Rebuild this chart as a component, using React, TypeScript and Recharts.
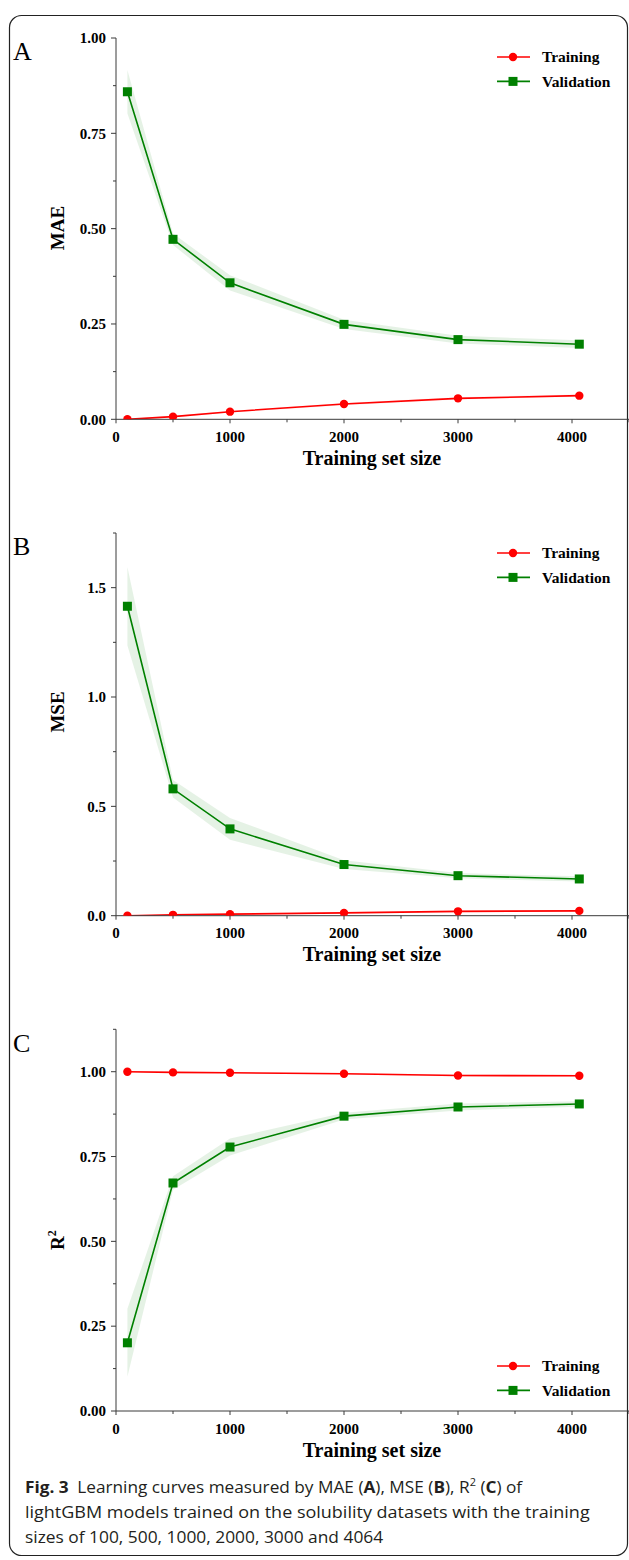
import React from 'react';
import { ComposedChart, Line, Area, XAxis, YAxis, Legend } from 'recharts';

// ---------- data ----------
const sizes = [100, 500, 1000, 2000, 3000, 4064];

const maeTrain = [0.0, 0.007, 0.02, 0.04, 0.055, 0.062];
const maeTrainStd = [0.001, 0.002, 0.002, 0.003, 0.003, 0.003];
const maeVal = [0.859, 0.472, 0.358, 0.249, 0.209, 0.197];
const maeValStd = [0.057, 0.015, 0.02, 0.012, 0.01, 0.01];

const mseTrain = [0.0, 0.004, 0.007, 0.013, 0.02, 0.022];
const mseTrainStd = [0.001, 0.002, 0.002, 0.003, 0.004, 0.004];
const mseVal = [1.415, 0.58, 0.397, 0.234, 0.183, 0.168];
const mseValStd = [0.18, 0.04, 0.05, 0.02, 0.012, 0.012];

const r2Train = [1.0, 0.998, 0.997, 0.994, 0.989, 0.988];
const r2TrainStd = [0.001, 0.002, 0.002, 0.002, 0.003, 0.003];
const r2Val = [0.201, 0.672, 0.778, 0.869, 0.896, 0.905];
const r2ValStd = [0.1, 0.02, 0.025, 0.01, 0.01, 0.008];

const xTicks = [0, 500, 1000, 1500, 2000, 2500, 3000, 3500, 4000, 4500];
const xMajor = [0, 1000, 2000, 3000, 4000];

const maeTicks = [0, 0.125, 0.25, 0.375, 0.5, 0.625, 0.75, 0.875, 1.0];
const maeMajor = [0, 0.25, 0.5, 0.75, 1.0];
const mseTicks = [0, 0.25, 0.5, 0.75, 1.0, 1.25, 1.5, 1.75];
const mseMajor = [0, 0.5, 1.0, 1.5];
const r2Ticks = [0, 0.125, 0.25, 0.375, 0.5, 0.625, 0.75, 0.875, 1.0, 1.125];
const r2Major = [0, 0.25, 0.5, 0.75, 1.0];

const seriesNames = ['Training', 'Validation'];

const captionLine2 = 'lightGBM models trained on the solubility datasets with the training';
const captionLine3 = 'sizes of 100, 500, 1000, 2000, 3000 and 4064';

// ---------- styles ----------
const FONT = '"Liberation Serif", "Times New Roman", serif';
const RED = '#ff0000';
const GREEN = '#008000';
const AXIS = '#3a3a3a';

function buildRows(train: number[], trainStd: number[], val: number[], valStd: number[]) {
  return sizes.map((s, i) => ({
    size: s,
    train: train[i],
    val: val[i],
    trainBand: [train[i] - trainStd[i], train[i] + trainStd[i]],
    valBand: [val[i] - valStd[i], val[i] + valStd[i]],
  }));
}

const isIn = (arr: number[], v: number) => arr.some((m) => Math.abs(m - v) < 1e-9);

const makeYTick = (majors: number[], digits: number) => (props: any) => {
  const { x, y, payload } = props;
  const v = payload.value as number;
  const major = isIn(majors, v);
  return (
    <g>
      <line x1={x - (major ? 5 : 3)} x2={x} y1={y} y2={y} stroke={AXIS} strokeWidth={1} />
      {major && (
        <text x={x - 10} y={y} dy="0.35em" textAnchor="end" fontFamily={FONT} fontWeight="bold" fontSize={15} fill="#000">
          {v.toFixed(digits)}
        </text>
      )}
    </g>
  );
};

const xTick = (props: any) => {
  const { x, y, payload } = props;
  const v = payload.value as number;
  const major = isIn(xMajor, v);
  return (
    <g>
      <line x1={x} x2={x} y1={y} y2={y + (major ? 4 : 3)} stroke={AXIS} strokeWidth={1} />
      {major && (
        <text x={x} y={y + 17.5} dy="0.35em" textAnchor="middle" fontFamily={FONT} fontWeight="bold" fontSize={15} fill="#000">
          {String(v)}
        </text>
      )}
    </g>
  );
};

const squareDot = (props: any) => {
  const { cx, cy, index } = props;
  if (cx == null || cy == null) return <g key={`sq-${index}`} />;
  return <rect key={`sq-${index}`} x={cx - 4.5} y={cy - 4.5} width={9} height={9} fill={GREEN} />;
};

const legendContent = () => (
  <svg width={139} height={50} style={{ overflow: 'visible', display: 'block' }}>
    <line x1={7} x2={40} y1={12} y2={12} stroke={RED} strokeWidth={1.6} />
    <circle cx={23} cy={12} r={4.2} fill={RED} />
    <text x={52} y={12} dy="0.35em" fontFamily={FONT} fontWeight="bold" fontSize={15.5} fill="#000">
      {seriesNames[0]}
    </text>
    <line x1={7} x2={40} y1={36.4} y2={36.4} stroke={GREEN} strokeWidth={1.6} />
    <rect x={18.5} y={31.9} width={9} height={9} fill={GREEN} />
    <text x={52} y={36.4} dy="0.35em" fontFamily={FONT} fontWeight="bold" fontSize={15.5} fill="#000">
      {seriesNames[1]}
    </text>
  </svg>
);

type PanelProps = {
  top: number;
  height: number;
  plotTop: number;
  plotBottom: number;
  rows: any[];
  yMax: number;
  yTicks: number[];
  yMajor: number[];
  digits: number;
  yLabel: React.ReactNode;
  yLabelY: number;
  legendY: number;
};

function Panel(p: PanelProps) {
  const X_AXIS_H = 30;
  const marginTop = p.plotTop - p.top;
  const marginBottom = p.top + p.height - p.plotBottom - X_AXIS_H;
  const ly = p.yLabelY - p.top;
  const xLabelY = p.plotBottom + 38.5 - p.top;
  return (
    <div style={{ position: 'absolute', left: 0, top: p.top, width: 629, height: p.height }}>
      <ComposedChart
        width={629}
        height={p.height}
        data={p.rows}
        margin={{ top: marginTop, right: 0, bottom: marginBottom, left: 0 }}
      >
        <XAxis
          dataKey="size"
          type="number"
          domain={[0, 4500]}
          ticks={xTicks}
          interval={0}
          height={X_AXIS_H}
          tickSize={0}
          tickMargin={0}
          tickLine={false}
          axisLine={{ stroke: AXIS, strokeWidth: 1 }}
          tick={xTick}
          allowDataOverflow
          label={{
            content: () => (
              <text x={372} y={xLabelY} dy="0.35em" textAnchor="middle" fontFamily={FONT} fontWeight="bold" fontSize={20} fill="#000">
                Training set size
              </text>
            ),
          }}
        />
        <YAxis
          type="number"
          domain={[0, p.yMax]}
          ticks={p.yTicks}
          interval={0}
          width={116}
          tickSize={0}
          tickMargin={0}
          tickLine={false}
          axisLine={{ stroke: AXIS, strokeWidth: 1 }}
          tick={makeYTick(p.yMajor, p.digits)}
          allowDataOverflow
          label={{
            content: () => (
              <text
                x={57}
                y={ly}
                dy="0.35em"
                textAnchor="middle"
                transform={`rotate(-90, 57, ${ly})`}
                fontFamily={FONT}
                fontWeight="bold"
                fontSize={19}
                fill="#000"
              >
                {p.yLabel}
              </text>
            ),
          }}
        />
        <Legend
          layout="horizontal"
          align="center"
          verticalAlign="middle"
          content={legendContent}
          wrapperStyle={{ position: 'absolute', left: 490, top: p.legendY - p.top - 12, width: 139, height: 50 }}
        />
        <Area
          dataKey="valBand"
          type="linear"
          stroke="none"
          fill={GREEN}
          fillOpacity={0.1}
          isAnimationActive={false}
          legendType="none"
          activeDot={false}
        />
        <Area
          dataKey="trainBand"
          type="linear"
          stroke="none"
          fill={RED}
          fillOpacity={0.1}
          isAnimationActive={false}
          legendType="none"
          activeDot={false}
        />
        <Line
          dataKey="train"
          name={seriesNames[0]}
          type="linear"
          stroke={RED}
          strokeWidth={1.6}
          dot={{ r: 4.2, fill: RED, stroke: RED, strokeWidth: 0 }}
          activeDot={false}
          isAnimationActive={false}
        />
        <Line
          dataKey="val"
          name={seriesNames[1]}
          type="linear"
          stroke={GREEN}
          strokeWidth={1.6}
          dot={squareDot}
          activeDot={false}
          isAnimationActive={false}
        />
      </ComposedChart>
    </div>
  );
}

const maeRows = buildRows(maeTrain, maeTrainStd, maeVal, maeValStd);
const mseRows = buildRows(mseTrain, mseTrainStd, mseVal, mseValStd);
const r2Rows = buildRows(r2Train, r2TrainStd, r2Val, r2ValStd);

const CAP_FONT = '"Open Sans", "Noto Sans", sans-serif';
const CAP_SIZE = 16.5;
const CAP_COLOR = '#231f20';

function measureText(txt: string, font: string): number {
  try {
    const ctx = document.createElement('canvas').getContext('2d');
    if (!ctx) return 0;
    ctx.font = font;
    return ctx.measureText(txt).width;
  } catch (e) {
    return 0;
  }
}

export default function App() {
  const natural = measureText(captionLine2, `${CAP_SIZE}px "Open Sans"`);
  const sx = natural > 0 ? 565 / natural : 0.92;
  return (
    <div style={{ position: 'absolute', left: 0, top: 0, width: 629, height: 1560, background: '#fff', overflow: 'hidden' }}>
      <svg width={629} height={1560} style={{ position: 'absolute', left: 0, top: 0 }}>
        <rect x={9.5} y={15.5} width={618} height={1540} rx={12} ry={12} fill="none" stroke="#222" strokeWidth={1.2} />
        <text x={13} y={60} fontFamily={FONT} fontSize={26} fill="#000">A</text>
        <text x={13} y={555} fontFamily={FONT} fontSize={26} fill="#000">B</text>
        <text x={13} y={1052} fontFamily={FONT} fontSize={26} fill="#000">C</text>
        <g transform={`translate(25 0) scale(${sx * 0.958} 1)`}>
          <text x={0} y={1493} fontFamily={CAP_FONT} fontSize={CAP_SIZE} fill={CAP_COLOR}>
            <tspan fontWeight="bold">Fig. 3</tspan>
            <tspan>{'\u2002Learning curves measured by MAE ('}</tspan>
            <tspan fontWeight="bold">A</tspan>
            <tspan>{'), MSE ('}</tspan>
            <tspan fontWeight="bold">B</tspan>
            <tspan>{'), R'}</tspan>
            <tspan fontSize={10.5} dy={-6.5}>2</tspan>
            <tspan dy={6.5}>{' ('}</tspan>
            <tspan fontWeight="bold">C</tspan>
            <tspan>{') of'}</tspan>
          </text>
        </g>
        <g transform={`translate(25 0) scale(${sx} 1)`}>
          <text x={0} y={1518} fontFamily={CAP_FONT} fontSize={CAP_SIZE} fill={CAP_COLOR}>
            {captionLine2}
          </text>
        </g>
        <g transform={`translate(25 0) scale(${sx * 0.965} 1)`}>
          <text x={0} y={1543} fontFamily={CAP_FONT} fontSize={CAP_SIZE} fill={CAP_COLOR}>
            {captionLine3}
          </text>
        </g>
      </svg>

      <Panel
        top={0}
        height={480}
        plotTop={38}
        plotBottom={419.3}
        rows={maeRows}
        yMax={1.0}
        yTicks={maeTicks}
        yMajor={maeMajor}
        digits={2}
        yLabel="MAE"
        yLabelY={228}
        legendY={57.3}
      />
      <Panel
        top={500}
        height={480}
        plotTop={533}
        plotBottom={915.7}
        rows={mseRows}
        yMax={1.75}
        yTicks={mseTicks}
        yMajor={mseMajor}
        digits={1}
        yLabel="MSE"
        yLabelY={712}
        legendY={553.3}
      />
      <Panel
        top={1000}
        height={470}
        plotTop={1029.3}
        plotBottom={1411}
        rows={r2Rows}
        yMax={1.125}
        yTicks={r2Ticks}
        yMajor={r2Major}
        digits={2}
        yLabel={
          <>
            <tspan>R</tspan>
            <tspan fontSize={12} dy={-8}>2</tspan>
          </>
        }
        yLabelY={1240}
        legendY={1365.7}
      />
    </div>
  );
}
